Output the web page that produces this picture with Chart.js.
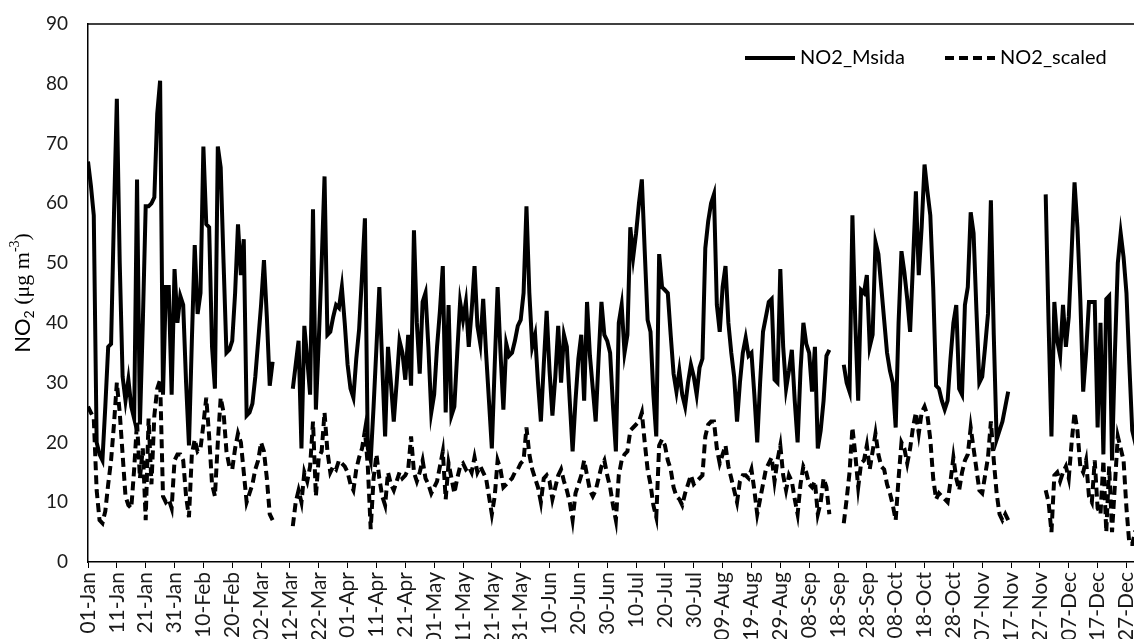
<!DOCTYPE html>
<html lang="en">
<head>
  <meta charset="UTF-8">
  <title>NO2 Msida vs scaled</title>
  <script src="https://cdn.jsdelivr.net/npm/chart.js"></script>
  <style>
    html, body { margin: 0; padding: 0; background: #fff; overflow: hidden; }
  </style>
</head>
<body>
  <canvas id="no2-chart" width="1160" height="639"></canvas>

  <script>
    // x-axis labels, one every 10 days
    const tickLabels = [
      '01-Jan', '11-Jan', '21-Jan', '31-Jan', '10-Feb', '20-Feb', '02-Mar', '12-Mar', '22-Mar', '01-Apr',
      '11-Apr', '21-Apr', '01-May', '11-May', '21-May', '31-May', '10-Jun', '20-Jun', '30-Jun', '10-Jul',
      '20-Jul', '30-Jul', '09-Aug', '19-Aug', '29-Aug', '08-Sep', '18-Sep', '28-Sep', '08-Oct', '18-Oct',
      '28-Oct', '07-Nov', '17-Nov', '27-Nov', '07-Dec', '17-Dec', '27-Dec'
    ];

    // daily NO2 at Msida (ug/m3), day 0 = 01-Jan, null = no data
    const msida = [
      67, 63, 58, 20, 18, 17, 26, 36, 36.5, 58,
      77.5, 50, 31, 27, 30.5, 26, 24, 64, 23, 40,
      59.5, 59.5, 60, 61, 75, 80.5, 28, 46, 46, 28,
      49, 40, 44.5, 43, 30, 19.5, 37, 53, 41.5, 45,
      69.5, 56.5, 56, 36, 29, 69.5, 66, 50, 35, 35.5,
      37, 45, 56.5, 48, 54, 24.5, 25, 26.5, 31, 37,
      43, 50.5, 41, 29.5, 33.5, null, null, null, null, null,
      null, 29, 33, 37, 19, 39.5, 34, 28, 59, 25.5,
      37, 50, 64.5, 38, 38.5, 41, 43, 42.5, 46, 40,
      33, 29, 27.5, 34, 39, 48, 57.5, 19, 17, 26,
      36, 46, 33, 21, 36, 30, 23.5, 30, 37, 35,
      30.5, 38, 29.5, 55.5, 40, 31.5, 43.5, 45, 36, 25,
      28, 36, 42, 49.5, 25, 43, 24.5, 26, 35, 43.5,
      40.5, 43.5, 36, 42, 49.5, 39.5, 36.5, 44, 35, 27,
      19, 33, 46, 35, 25.5, 36.5, 34.5, 35, 37, 39.5,
      40.5, 45, 59.5, 45, 36, 38, 30, 23.5, 33, 42,
      32, 24.5, 31, 39.5, 30, 38, 36, 27, 18.5, 27,
      34, 38, 27, 43.5, 34.5, 29, 23.5, 34, 43.5, 38,
      37, 35, 26, 18.5, 40, 43, 35, 38, 56, 51,
      55, 60, 64, 52, 40.5, 38.5, 28, 21, 51.5, 46,
      45.5, 45, 38, 31.5, 28.5, 32, 28, 26, 30, 33,
      31, 28, 32.5, 34, 52.5, 57, 60, 61.5, 43, 38.5,
      46, 49.5, 40, 35, 31, 23.5, 30, 35, 37.5, 34.5,
      35, 28, 20, 30, 38.5, 41, 43.5, 44, 30.5, 30,
      49, 36, 29, 32, 35.5, 27, 20, 32, 40, 36.5,
      35, 28.5, 36, 19, 22, 27, 34.5, 35.5, null, null,
      null, null, 33, 30, 28.5, 58, 40, 27, 45.5, 45,
      48, 36, 38, 53.5, 51.5, 46, 40.5, 35, 32, 30,
      22.5, 40, 52, 48.5, 44, 38.5, 50, 62, 48, 56,
      66.5, 62, 58, 46, 29.5, 29, 27, 25.5, 27, 34,
      40, 43, 29, 28, 43, 46, 58.5, 55, 42, 30,
      31, 36, 41.5, 60.5, 38, 20.5, 22, 23.5, 26, 28.5,
      null, null, null, null, null, null, null, null, null, null,
      null, null, 61.5, 40, 21, 43.5, 37, 34.5, 43, 36,
      41, 52, 63.5, 56, 44, 28.5, 35, 43.5, 43.5, 43.5,
      22.5, 40, 18, 44, 44.5, 17, 35, 50, 55, 51,
      45, 33, 22, 20, 22
    ];

    // daily scaled NO2 (ug/m3)
    const scaled = [
      26, 25, 24, 12, 7, 6.5, 8.5, 13, 17, 23,
      30, 25, 18, 11, 9.5, 9, 15.5, 23.5, 14, 19,
      7, 24, 13, 24.5, 29, 30.5, 11, 10, 10.5, 9,
      17, 18, 18, 17, 11, 7.5, 18, 20.5, 18.5, 19,
      23, 27.5, 21, 13, 11, 20, 27.5, 25, 18.5, 16,
      15.5, 19, 21.5, 20, 15, 10, 11.5, 13, 15.5, 17,
      20, 18.5, 14, 8, 7, null, null, null, null, null,
      null, 6, 10, 12, 10, 15, 13.5, 16, 23.5, 11,
      17.5, 18.5, 25, 18.5, 15, 16, 15.5, 17, 16.5, 16,
      15, 13, 12, 15.5, 17.5, 19, 22, 16, 5.5, 14,
      18, 14, 11, 9.5, 15, 13, 12, 13.5, 15, 14,
      14.5, 15.5, 21, 15, 13.5, 15, 17, 14, 13, 11.5,
      12.5, 13.5, 16, 18.5, 10.5, 16.5, 14, 11.5, 14, 16,
      16.5, 15.5, 16, 15, 17.5, 15, 16, 15, 14, 11,
      8, 11, 17, 15.5, 12.5, 13, 13.5, 14, 15, 15.5,
      16.5, 17, 22.5, 18, 15.5, 14, 12.5, 10, 14, 14.5,
      13.5, 10.5, 12.5, 14.5, 15.5, 13.5, 12, 10, 7, 11.5,
      13, 14.5, 17, 14.5, 12, 11, 12, 14, 16, 17,
      14.5, 12.5, 9.5, 7, 14.5, 17, 18, 18.5, 22, 22.5,
      23, 23.5, 25, 20, 15.5, 13, 9.5, 7.5, 19.5, 20.5,
      19.5, 17, 15.5, 12.5, 11, 10.5, 9.5, 11.5, 13, 14.5,
      13, 13.5, 14, 14.5, 21, 23, 23.5, 23.5, 19, 16.5,
      18, 19.5, 16, 14, 12, 10, 13.5, 14.5, 14.5, 14,
      15.5, 12, 8, 10.5, 13, 15.5, 16.5, 17.5, 13.5, 17,
      19.5, 14.5, 12, 14.5, 13.5, 10.5, 8, 13, 16, 15,
      13, 12.5, 13.5, 8, 10, 14, 12.5, 8, null, null,
      null, null, 6.5, 10.5, 15, 22.5, 18, 12.5, 16.5, 17,
      19.5, 15.5, 18.5, 21.5, 18, 16, 15.5, 13, 11.5, 9.5,
      7, 14, 20, 19, 16.5, 19, 22.5, 25, 21.5, 25,
      26, 24.5, 20.5, 14, 10.5, 11.5, 11, 10.5, 10, 13.5,
      17.5, 14, 12, 15, 17, 18, 22.5, 19, 15.5, 12,
      11.5, 14.5, 17.5, 23.5, 17, 11.5, 8, 7, 8, 7,
      null, null, null, null, null, null, null, null, null, null,
      null, null, 12, 10, 5, 14.5, 15, 13.5, 15, 16,
      14, 20, 25, 22, 16, 15, 17, 11, 10, 17,
      9, 8, 17, 5, 16, 5, 13, 21, 19, 17,
      9, 3, 3, 5, 5
    ];

    const toPoints = arr => arr.map((v, i) => ({ x: i, y: v }));

    // frame top line, in-plot legend and the y-axis title with sub/superscripts
    const extras = {
      id: 'extras',
      afterDraw(chart) {
        const { ctx, chartArea: a } = chart;
        ctx.save();

        ctx.strokeStyle = '#000';
        ctx.lineWidth = 1.5;
        ctx.beginPath();
        ctx.moveTo(a.left, a.top);
        ctx.lineTo(a.right, a.top);
        ctx.stroke();

        // legend
        ctx.textBaseline = 'middle';
        ctx.fillStyle = '#000';
        ctx.font = '20px Lato';
        chart.data.datasets.forEach((ds, i) => {
          const x0 = 745 + i * 200;
          const y0 = 58;
          ctx.lineWidth = ds.borderWidth;
          ctx.setLineDash(ds.borderDash || []);
          ctx.beginPath();
          ctx.moveTo(x0, y0);
          ctx.lineTo(x0 + 50, y0);
          ctx.stroke();
          ctx.fillText(ds.label, x0 + 55, y0);
        });
        ctx.setLineDash([]);

        // y title: NO2 (ug m-3)
        const parts = [
          { t: 'NO', f: '22px Lato', dy: 0 },
          { t: '2', f: '14px Lato', dy: 6 },
          { t: ' (\u03bcg m', f: '22px "Liberation Serif"', dy: 0 },
          { t: '-3', f: '14px "Liberation Serif"', dy: -8 },
          { t: ')', f: '22px "Liberation Serif"', dy: 0 }
        ];
        let total = 0;
        parts.forEach(p => { ctx.font = p.f; p.w = ctx.measureText(p.t).width; total += p.w; });
        ctx.translate(23, (a.top + a.bottom) / 2);
        ctx.rotate(-Math.PI / 2);
        let x = -total / 2;
        parts.forEach(p => {
          ctx.font = p.f;
          ctx.fillText(p.t, x, p.dy);
          x += p.w;
        });
        ctx.restore();
      }
    };

    const tickFont = { family: 'Lato', size: 19 };

    new Chart(document.getElementById('no2-chart'), {
      type: 'line',
      data: {
        datasets: [
          {
            label: 'NO2_Msida',
            data: toPoints(msida),
            borderColor: '#000',
            borderWidth: 4,
            pointRadius: 0,
            tension: 0,
            spanGaps: false
          },
          {
            label: 'NO2_scaled',
            data: toPoints(scaled),
            borderColor: '#000',
            borderWidth: 4,
            borderDash: [9, 5],
            pointRadius: 0,
            tension: 0,
            spanGaps: false
          }
        ]
      },
      options: {
        responsive: false,
        animation: false,
        layout: { padding: { left: 0, top: 24, right: 22, bottom: 0 } },
        plugins: { legend: { display: false }, tooltip: { enabled: false } },
        scales: {
          x: {
            type: 'linear',
            min: 0,
            max: 364,
            afterBuildTicks: s => { s.ticks = tickLabels.map((_, i) => ({ value: i * 10 })); },
            afterFit: s => { s.height = 77; },
            grid: { display: true, drawOnChartArea: false, drawTicks: true, tickLength: 6, color: '#000' },
            border: { display: true, color: '#000', width: 1.5 },
            ticks: {
              autoSkip: false,
              minRotation: 90,
              maxRotation: 90,
              padding: 4,
              color: '#1a1a1a',
              font: { family: 'Lato', size: 21 },
              callback: v => tickLabels[Math.round(v / 10)]
            }
          },
          y: {
            min: 0,
            max: 90,
            afterFit: s => { s.width = 88; },
            grid: { display: false },
            border: { display: true, color: '#000', width: 1.5 },
            ticks: { stepSize: 10, padding: 12, color: '#1a1a1a', font: tickFont }
          }
        }
      },
      plugins: [extras]
    });
  </script>
</body>
</html>
